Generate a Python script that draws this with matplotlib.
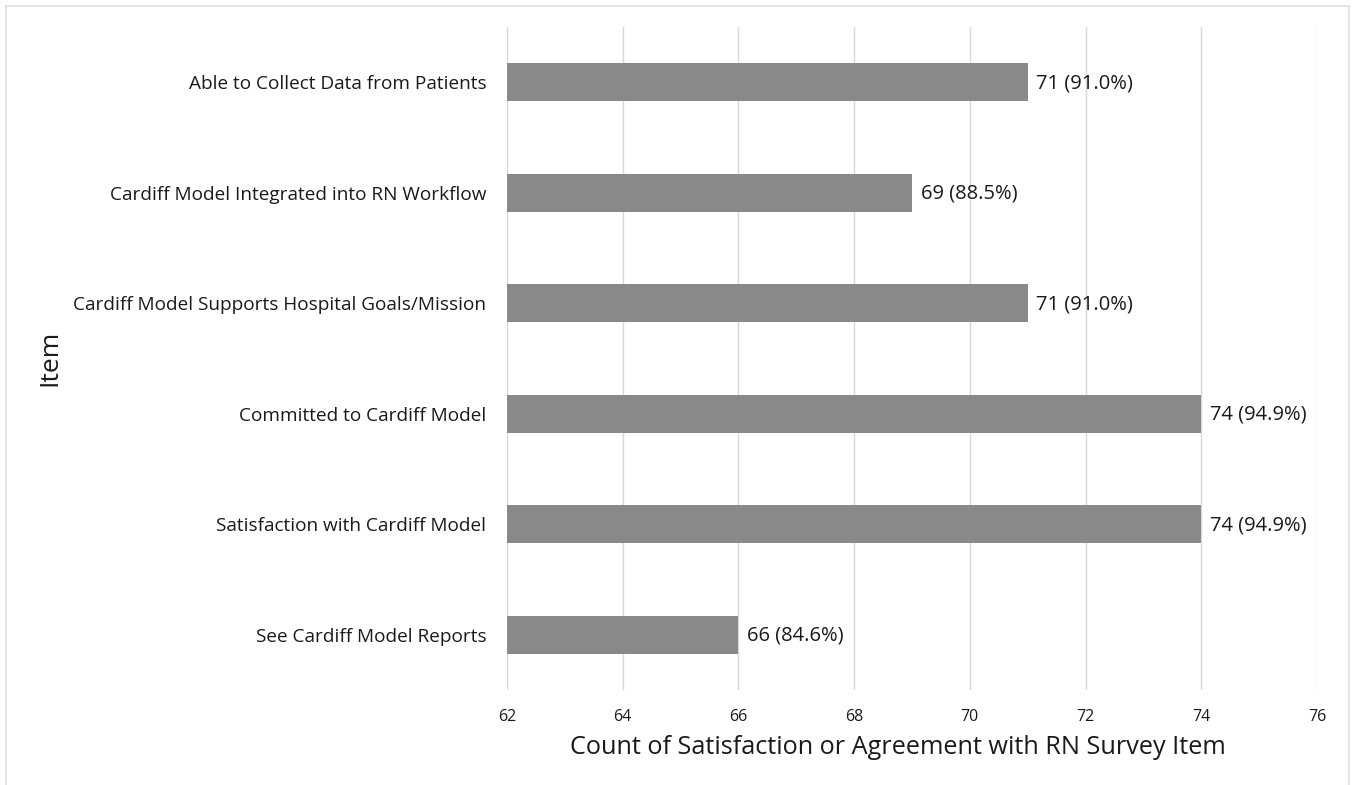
import matplotlib
matplotlib.use('Agg')
import matplotlib.pyplot as plt
from matplotlib.patches import Rectangle

plt.rcParams['font.family'] = ['Open Sans', 'DejaVu Sans']

items = ['Able to Collect Data from Patients',
	'Cardiff Model Integrated into RN Workflow',
	'Cardiff Model Supports Hospital Goals/Mission',
	'Committed to Cardiff Model',
	'Satisfaction with Cardiff Model',
	'See Cardiff Model Reports']
counts = [71, 69, 71, 74, 74, 66]
percents = [91.0, 88.5, 91.0, 94.9, 94.9, 84.6]
x_ticks = [62, 64, 66, 68, 70, 72, 74, 76]

fig = plt.figure(figsize=(13.53, 7.85), dpi=100)
ax = fig.add_axes([507/1353, 1 - 690/785, (1317 - 507)/1353, (690 - 27)/785])

# bars start at the axis minimum, like the original chart
base = x_ticks[0]
pos = list(range(len(items)))
ax.barh(pos, [c - base for c in counts], left=base, height=0.345,
	color='#898989', zorder=3)
for p, c, pc in zip(pos, counts, percents):
	ax.text(c + 0.15, p + 0.01, '{} ({:.1f}%)'.format(c, pc), va='center',
		ha='left', fontsize=14.5, color='#1a1a1a')

ax.set_xlim(x_ticks[0], x_ticks[-1])
ax.set_ylim(len(items) - 0.5, -0.5)
ax.set_xticks(x_ticks)
ax.set_yticks(pos)
ax.set_yticklabels(items, fontsize=13.7, color='#1a1a1a')
ax.tick_params(axis='x', labelsize=11.5, colors='#1a1a1a', length=0, pad=14)
ax.tick_params(axis='y', length=0, pad=15)
ax.grid(axis='x', color='#d9d9d9', linewidth=1, zorder=0)
for s in ax.spines.values():
	s.set_visible(False)

ax.set_xlabel('Count of Satisfaction or Agreement with RN Survey Item',
	fontsize=18.2, color='#1a1a1a')
ax.xaxis.set_label_coords((898 - 507)/(1317 - 507), -(748 - 690)/(690 - 27))
ax.xaxis.label.set_va('center')
fig.text(50/1353, 1 - 358/785, 'Item', rotation=90, fontsize=19,
	color='#1a1a1a', va='center', ha='center')

# light frame around the whole chart
fig.patches.append(Rectangle((6/1353, -0.01), (1349 - 6)/1353, 1 - 6/785 + 0.01,
	transform=fig.transFigure, fill=False, edgecolor='#e0e0e0', linewidth=1.2))

fig.savefig('out.png', dpi=100)
